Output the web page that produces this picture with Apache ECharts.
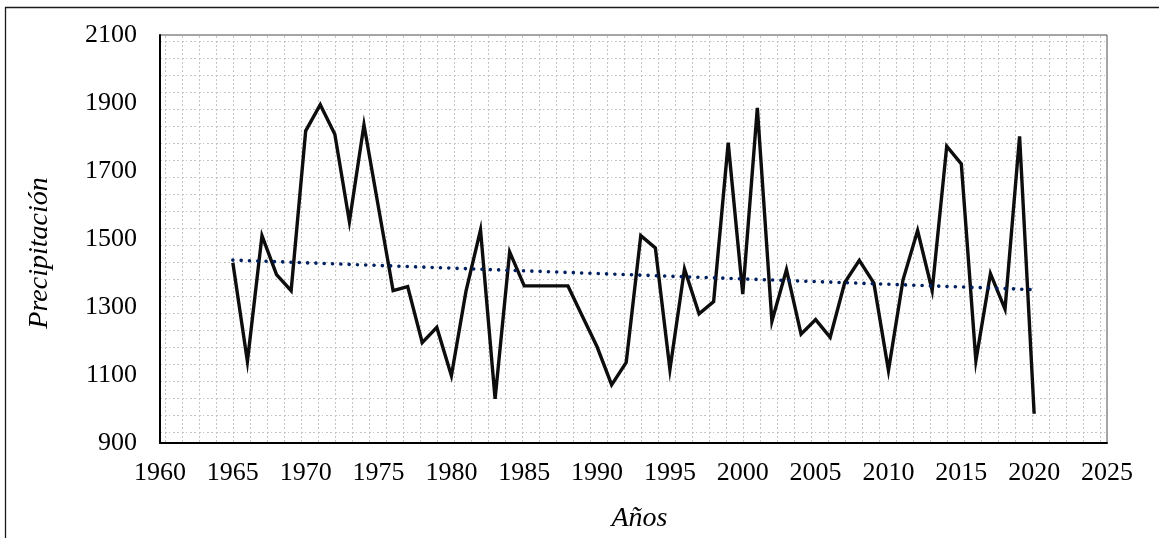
<!DOCTYPE html>
<html>
<head>
<meta charset="utf-8">
<title>Precipitación anual</title>
<script src="https://cdn.jsdelivr.net/npm/echarts@6/dist/echarts.min.js"></script>
<style>
  html, body { margin: 0; padding: 0; background: #ffffff; }
  #chart { width: 1159px; height: 538px; }
</style>
</head>
<body>
<div id="chart"></div>
<script>
// Annual precipitation series, 1965–2020
const years = [
  1965, 1966, 1967, 1968, 1969, 1970, 1971, 1972, 1973, 1974,
  1975, 1976, 1977, 1978, 1979, 1980, 1981, 1982, 1983, 1984,
  1985, 1986, 1987, 1988, 1989, 1990, 1991, 1992, 1993, 1994,
  1995, 1996, 1997, 1998, 1999, 2000, 2001, 2002, 2003, 2004,
  2005, 2006, 2007, 2008, 2009, 2010, 2011, 2012, 2013, 2014,
  2015, 2016, 2017, 2018, 2019, 2020
];
const precipitation = [
  1430, 1140, 1510, 1395, 1348, 1818, 1895, 1808, 1551, 1836,
  1592, 1348, 1360, 1195, 1240, 1098, 1346, 1527, 1030, 1462,
  1362, 1362, 1362, 1362, 1272, 1183, 1071, 1137, 1510, 1474,
  1116, 1412, 1280, 1316, 1783, 1338, 1886, 1258, 1410, 1220,
  1263, 1211, 1372, 1437, 1370, 1113, 1380, 1525, 1349, 1773,
  1721, 1142, 1398, 1294, 1802, 986
];

// Linear trend line end points
const trendYears = [1965, 2020];
const trendValues = [1438, 1351];

// Axis ranges and tick steps
const xTicks = { min: 1960, max: 2025, step: 5 };
const yTicks = { min: 900, max: 2100, step: 200 };

const SERIF = "'Liberation Serif', 'Times New Roman', serif";

// Dotted-grid fill for the plot area
function dottedGridTile() {
  const size = 17;
  const c = document.createElement('canvas');
  c.width = size; c.height = size;
  const g = c.getContext('2d');
  g.fillStyle = '#ffffff';
  g.fillRect(0, 0, size, size);
  g.fillStyle = '#c4c4c4';
  for (let i = 0; i < size - 1; i += 4) {
    g.fillRect((i + 12) % size, 7, 2, 1);   // horizontal dots
    g.fillRect(12, (i + 7) % size, 1, 2);   // vertical dots
  }
  return c;
}

const mainData = years.map((y, i) => [y, precipitation[i]]);
const trendData = trendYears.map((y, i) => [y, trendValues[i]]);

const chart = echarts.init(document.getElementById('chart'), null, { renderer: 'canvas' });

chart.setOption({
  animation: false,
  backgroundColor: '#ffffff',
  grid: {
    left: 160, right: 52, top: 35, bottom: 95,
    show: true,
    backgroundColor: { image: dottedGridTile(), repeat: 'repeat' },
    borderColor: '#4d4d4d',
    borderWidth: 1
  },
  graphic: [{
    type: 'rect',
    silent: true,
    shape: { x: 5.5, y: 7.5, width: 1400, height: 800 },
    style: { fill: 'none', stroke: '#1a1a1a', lineWidth: 1.3 }
  }],
  xAxis: {
    type: 'value',
    min: xTicks.min, max: xTicks.max, interval: xTicks.step,
    name: 'Años',
    nameLocation: 'middle',
    nameGap: 62,
    nameTextStyle: {
      fontFamily: SERIF, fontSize: 28, fontStyle: 'italic', color: '#000',
      padding: [0, 0, 0, 12]
    },
    axisLine: { show: true, onZero: false, lineStyle: { color: '#000', width: 2 } },
    axisTick: { show: false },
    splitLine: { show: false },
    axisLabel: {
      fontFamily: SERIF, fontSize: 26, color: '#000', margin: 17,
      formatter: v => String(v)
    }
  },
  yAxis: {
    type: 'value',
    min: yTicks.min, max: yTicks.max, interval: yTicks.step,
    name: 'Precipitación',
    nameLocation: 'middle',
    nameRotate: 90,
    nameGap: 106,
    nameTextStyle: {
      fontFamily: SERIF, fontSize: 28, fontStyle: 'italic', color: '#000',
      padding: [0, 28, 0, 0]
    },
    axisLine: { show: true, onZero: false, lineStyle: { color: '#000', width: 2 } },
    axisTick: { show: false },
    splitLine: { show: false },
    axisLabel: {
      fontFamily: SERIF, fontSize: 26, color: '#000', margin: 23,
      formatter: v => String(v)
    }
  },
  series: [
    {
      name: 'Precipitación',
      type: 'line',
      data: mainData,
      showSymbol: false,
      symbol: 'none',
      lineStyle: { color: '#0d0d0d', width: 3.4, join: 'miter' },
      z: 3
    },
    {
      name: 'Tendencia',
      type: 'line',
      data: trendData,
      showSymbol: false,
      symbol: 'none',
      lineStyle: { color: '#002060', width: 3.6, type: [0.01, 8.3], cap: 'round' },
      z: 4
    }
  ]
});
</script>
</body>
</html>
